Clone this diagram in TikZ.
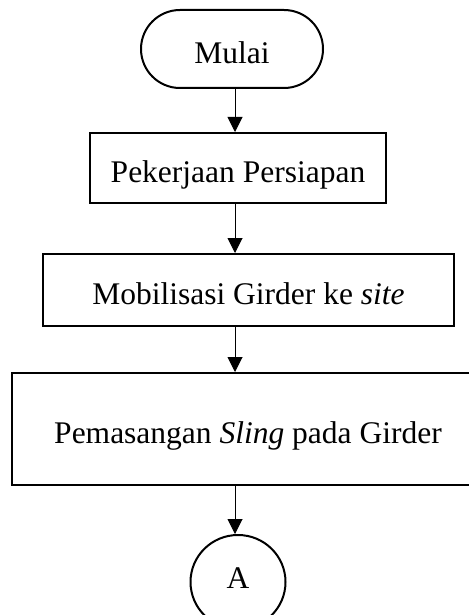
\documentclass[tikz,border=0pt]{standalone}
\usepackage{fontspec}
\setmainfont{Liberation Serif}
\usetikzlibrary{arrows.meta,shapes.misc,shapes.geometric}
\begin{document}
\begin{tikzpicture}[x=1pt,y=-1pt,
  flowtext/.style={font=\fontsize{31.5}{38}\selectfont, inner sep=0pt,
    text height=32pt, text depth=3pt, align=center},
  terminal/.style={flowtext, draw, line width=2pt, rounded rectangle},
  procbox/.style={flowtext, draw, line width=2pt, rectangle},
  connector/.style={font=\fontsize{31.5}{38}\selectfont, inner sep=0pt,
    draw, line width=2pt, ellipse, text depth=7pt},
  flow/.style={draw, line width=1pt, -{Triangle[width=15pt,length=15pt]}}
]
\useasboundingbox (0,0) rectangle (468,615);

% vertical line that all connectors follow
\coordinate (spine) at (235,0);

\node[terminal, minimum width=182pt, minimum height=78pt] (mulai) at (232,49) {Mulai};
\node[procbox, minimum width=296pt, minimum height=70pt] (persiapan) at (238,168) {Pekerjaan Persiapan};
\node[procbox, minimum width=411pt, minimum height=72pt] (mobilisasi) at (248.5,290) {Mobilisasi Girder ke \textit{site}};
\node[procbox, minimum width=472pt, minimum height=112pt] (sling) at (248,429) {Pemasangan \textit{Sling} pada Girder};
\node[connector, minimum width=95pt, minimum height=94pt] (a) at (238,582) {A};

\draw[flow] (mulai.south -| spine) -- (persiapan.north -| spine);
\draw[flow] (persiapan.south -| spine) -- (mobilisasi.north -| spine);
\draw[flow] (mobilisasi.south -| spine) -- (sling.north -| spine);
\draw[flow] (sling.south -| spine) -- (a.north -| spine);
\end{tikzpicture}
\end{document}
